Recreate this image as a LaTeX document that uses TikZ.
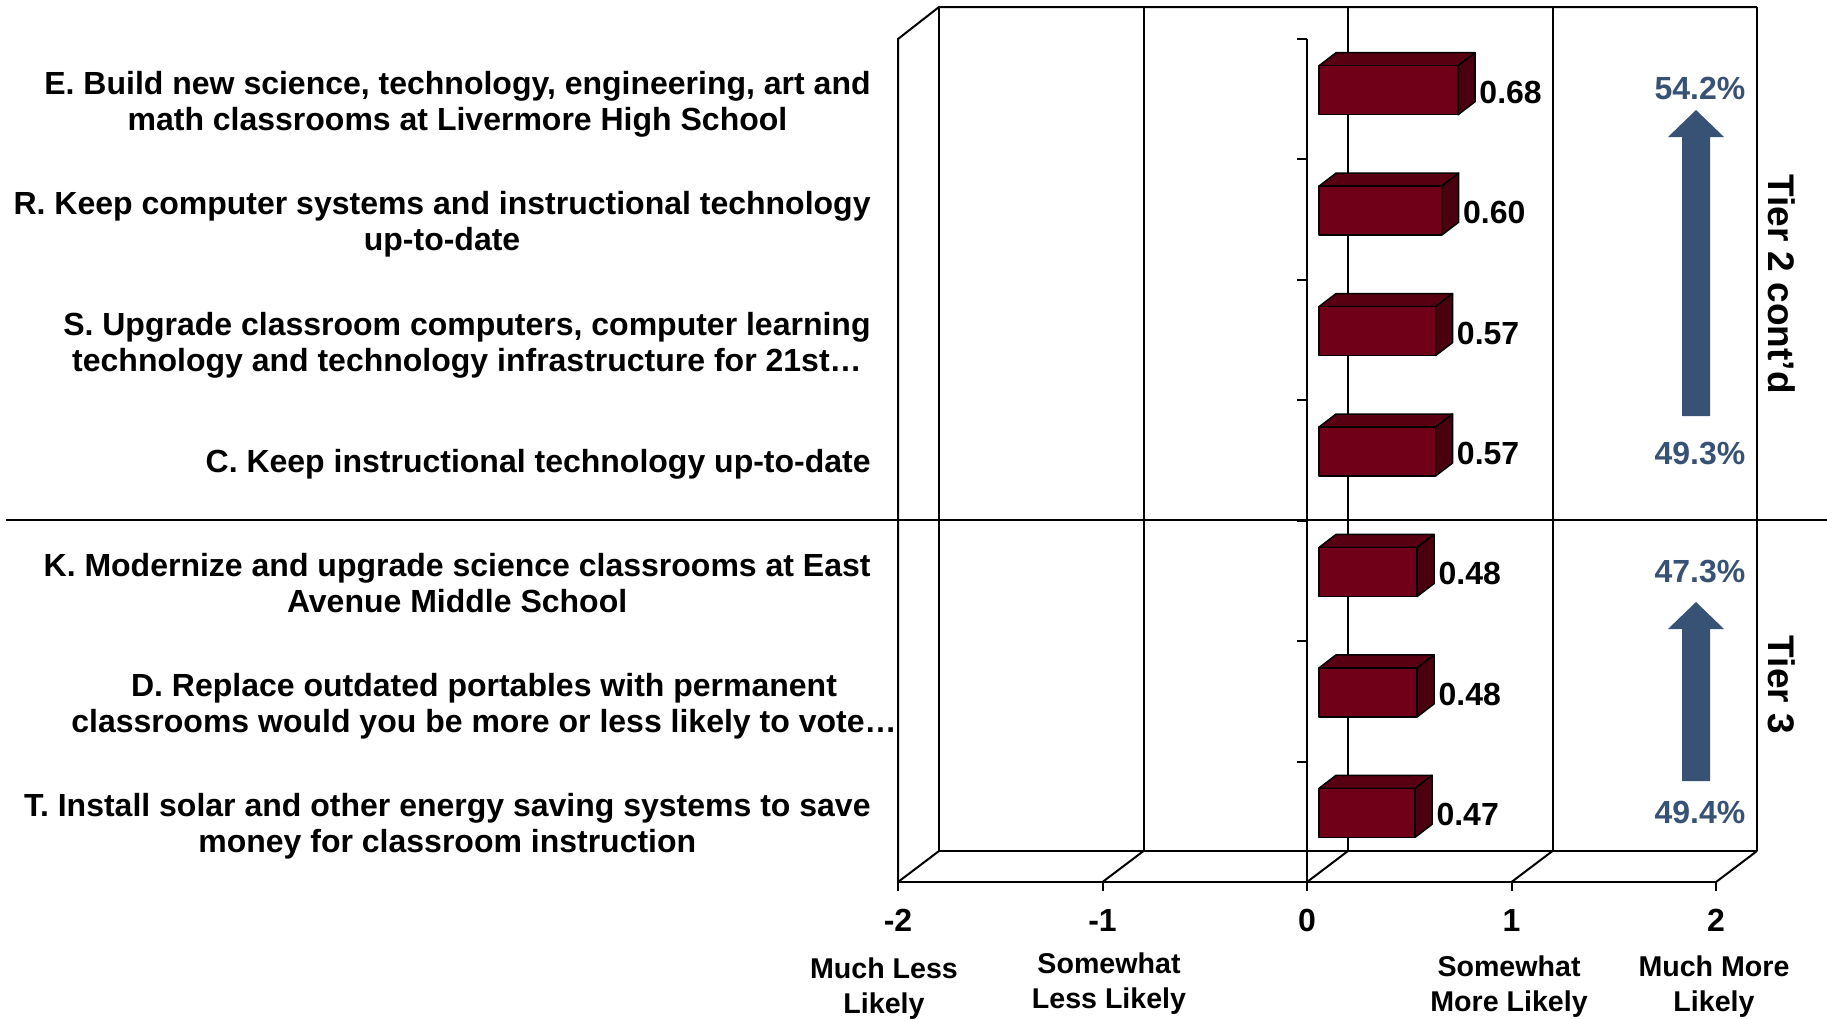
\documentclass[tikz,border=0pt]{standalone}
\usepackage{fontspec}
\setmainfont{Liberation Sans}
\definecolor{barfront}{RGB}{112,0,24}
\definecolor{bartop}{RGB}{88,0,18}
\definecolor{barside}{RGB}{74,0,14}
\definecolor{arrowblue}{RGB}{56,82,118}
\tikzset{
  frame/.style      = {draw=black,line width=1pt},
  barbox/.style     = {draw=black,line width=0.75pt,line join=round},
  itemlabel/.style  = {font=\fontsize{16}{18.2}\selectfont\bfseries,align=center,inner sep=0pt},
  vallabel/.style   = {font=\fontsize{16}{18}\selectfont\bfseries,anchor=west,inner sep=0pt},
  ticklabel/.style  = {font=\fontsize{16}{18}\selectfont\bfseries,inner sep=0pt},
  scalelabel/.style = {font=\fontsize{14.3}{17.5}\selectfont\bfseries,align=center,inner sep=0pt},
  pctlabel/.style   = {font=\fontsize{16}{18}\selectfont\bfseries,text=arrowblue,inner sep=0pt},
  tierlabel/.style  = {font=\fontsize{18.5}{20}\selectfont\bfseries,rotate=-90,inner sep=0pt}}
% arrow from #1 (bottom) up to #2 (tip)
\newcommand\tierarrow[2]{%
  \fill[arrowblue] (1682,#1) -- (1682,#2+27) -- (1668,#2+27) -- (1696,#2)
                -- (1724,#2+27) -- (1710,#2+27) -- (1710,#1) -- cycle;}

\begin{document}
\begin{tikzpicture}[x=0.5pt,y=-0.5pt]
  \useasboundingbox (0,0) rectangle (1827,1018);
  % walls and floor
  \draw[frame] (898,882) -- (898,39) -- (939,7) -- (1757,7);
  \foreach \k in {0,...,4}{
     \draw[frame] (939+204.5*\k,7) -- (939+204.5*\k,851);
     \draw[frame] (898+204.5*\k,882) -- ++(41,-31);
     \draw[frame] (898+204.5*\k,882) -- ++(0,9);}
  \draw[frame] (939,851) -- (1757,851);
  \draw[frame] (898,882) -- (1716,882);
  % category axis
  \draw[frame] (1307,39) -- (1307,882);
  \foreach \k in {0,...,7} {\draw[frame] (1307,39+120.43*\k) -- ++(-10,0);}
  % tier separator
  \draw[line width=0.8pt] (6,520) -- (1827,520);
  % bars
  \foreach \v [count=\i] in {0.68,0.60,0.57,0.57,0.48,0.48,0.47}{%
     \pgfmathsetmacro\yc{39+120.43*(\i-0.5)-9}
     \pgfmathsetmacro\xr{1319+204.5*\v}
     \filldraw[barbox,fill=bartop] (1319,\yc-24.5) -- ++(17,-13) -- (\xr+17,\yc-37.5)
                                   -- (\xr,\yc-24.5) -- cycle;
     \filldraw[barbox,fill=barside] (\xr,\yc-24.5) -- ++(17,-13) -- ++(0,49)
                                    -- ++(-17,13) -- cycle;
     \filldraw[barbox,fill=barfront] (1319,\yc-24.5) coordinate (bar \i) rectangle (\xr,\yc+24.5);
     \node[vallabel] (val \i) at (\xr+21,\yc+2) {\v};}
  % items
  \node[itemlabel,anchor=east] (item 1) at (871,104) {E. Build new science, technology, engineering, art and\\math classrooms at Livermore High School};
  \node[itemlabel,anchor=east] (item 2) at (871,224) {R. Keep computer systems and instructional technology\\up-to-date};
  \node[itemlabel,anchor=east] (item 3) at (871,345) {S. Upgrade classroom computers, computer learning\\technology and technology infrastructure for 21st…};
  \node[itemlabel,anchor=east] (item 4) at (871,464) {C. Keep instructional technology up-to-date};
  \node[itemlabel,anchor=east] (item 5) at (871,583) {K. Modernize and upgrade science classrooms at East\\Avenue Middle School};
  \node[itemlabel]             (item 6) at (484,706) {D. Replace outdated portables with permanent\\classrooms would you be more or less likely to vote…};
  \node[itemlabel,anchor=east] (item 7) at (871,826) {T. Install solar and other energy saving systems to save\\money for classroom instruction};
  % value axis
  \foreach \t [count=\k from 0] in {-2,-1,0,1,2} {\node[ticklabel] (tick \k) at (898+204.5*\k,920) {\t};}
  \node[scalelabel] (scale 1) at (884,989)  {Much Less\\Likely};
  \node[scalelabel] (scale 2) at (1109,984) {Somewhat\\Less Likely};
  \node[scalelabel] (scale 4) at (1509,987) {Somewhat\\More Likely};
  \node[scalelabel] (scale 5) at (1714,987) {Much More\\Likely};
  % tiers
  \tierarrow{416}{110}
  \tierarrow{781}{602}
  \node[pctlabel] (pct 1) at (1700,88)  {54.2\%};
  \node[pctlabel] (pct 2) at (1700,453) {49.3\%};
  \node[pctlabel] (pct 3) at (1700,571) {47.3\%};
  \node[pctlabel] (pct 4) at (1700,812) {49.4\%};
  \node[tierlabel] (tier 2) at (1782,284) {Tier 2 cont’d};
  \node[tierlabel] (tier 3) at (1782,685) {Tier 3};
\end{tikzpicture}
\end{document}
